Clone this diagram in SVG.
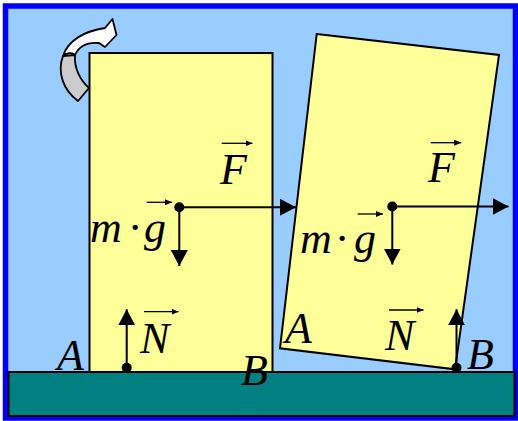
<svg xmlns="http://www.w3.org/2000/svg" width="518" height="421" viewBox="0 0 518 421">
<style>
.lbl{font-family:"Liberation Serif","Times New Roman",serif;font-style:italic;font-size:44px;fill:#000}
.blk{fill:#FFFF99;stroke:#000;stroke-width:2;stroke-linejoin:miter}
.force{stroke:#000;stroke-width:2;fill:none}
.vec{stroke:#000;stroke-width:1.3;fill:none}
</style>
<defs>
<marker id="ah" markerWidth="16" markerHeight="17" refX="16" refY="8.5" orient="auto" markerUnits="userSpaceOnUse">
<path d="M0,0 L16,8.5 L0,17 Z" fill="#000"/>
</marker>
<marker id="sh" markerWidth="7" markerHeight="6" refX="7" refY="3" orient="auto" markerUnits="userSpaceOnUse">
<path d="M0,0 L7,3 L0,6 Z" fill="#000"/>
</marker>
</defs>
<g id="frame">
<rect x="5.5" y="6" width="510" height="412" fill="#99CCFF" stroke="#0000FF" stroke-width="5.5"/>
</g>
<g id="ground">
<rect x="8.5" y="372" width="506" height="44" fill="#008080" stroke="#000" stroke-width="2"/>
</g>
<g id="block-upright">
<rect class="blk" x="89.5" y="53" width="183" height="319"/>
</g>
<g id="block-tilted">
<polygon class="blk" points="316.7,34 499,55 455,369.3 280,348.3"/>
</g>
<g id="rotation-arrow" stroke="#000" stroke-width="1.8" stroke-linejoin="round">
<path d="M63,56 C57,72 63,90 78,101 L89,88 C80,80 74,68 75,55 Z" fill="#CCCCCC"/>
<path d="M63,56 C68,40 85,31 105,28 L112.5,19 L116.5,35 L105,47 L99,43 C88,42 79,46 75,55 C72,52 66,53 63,56 Z" fill="#FFFFFF"/>
</g>
<g id="connectors">
<circle cx="179.3" cy="207.3" r="5" fill="#000"/>
<line class="force" x1="179.3" y1="207.3" x2="296" y2="207.3" marker-end="url(#ah)"/>
<line class="force" x1="179.3" y1="207.3" x2="179.3" y2="266" marker-end="url(#ah)"/>
<circle cx="126.7" cy="367.7" r="5" fill="#000"/>
<line class="force" x1="126.7" y1="367.7" x2="126.7" y2="309.3" marker-end="url(#ah)"/>
<circle cx="392.3" cy="206.5" r="5" fill="#000"/>
<line class="force" x1="392.3" y1="206.5" x2="508.5" y2="206.5" marker-end="url(#ah)"/>
<line class="force" x1="392.3" y1="206.5" x2="392.3" y2="264.5" marker-end="url(#ah)"/>
<circle cx="456.5" cy="367.7" r="5" fill="#000"/>
<line class="force" x1="456.5" y1="367.7" x2="456.5" y2="309.3" marker-end="url(#ah)"/>
</g>
<g id="vector-bars">
<line class="vec" x1="221.7" y1="143.3" x2="252.5" y2="143.3" marker-end="url(#sh)"/>
<line class="vec" x1="146.7" y1="202.3" x2="172" y2="202.3" marker-end="url(#sh)"/>
<line class="vec" x1="144" y1="311.7" x2="178.5" y2="311.7" marker-end="url(#sh)"/>
<line class="vec" x1="430.7" y1="142.7" x2="461.2" y2="142.7" marker-end="url(#sh)"/>
<line class="vec" x1="357.7" y1="214" x2="383" y2="214" marker-end="url(#sh)"/>
<line class="vec" x1="389" y1="310" x2="423.5" y2="310" marker-end="url(#sh)"/>
</g>
<g id="labels">
<text class="lbl" x="220" y="183.5">F</text>
<text class="lbl" x="428" y="182">F</text>
<text class="lbl" y="242"><tspan x="90">m</tspan><tspan x="129">·</tspan><tspan x="144">g</tspan></text>
<text class="lbl" y="253"><tspan x="300">m</tspan><tspan x="336">·</tspan><tspan x="354">g</tspan></text>
<text class="lbl" x="140" y="353">N</text>
<text class="lbl" x="385" y="349.5">N</text>
<text class="lbl" x="57" y="370">A</text>
<text class="lbl" x="241" y="384.5">B</text>
<text class="lbl" x="285" y="343">A</text>
<text class="lbl" x="467" y="368.5">B</text>
</g>
</svg>
